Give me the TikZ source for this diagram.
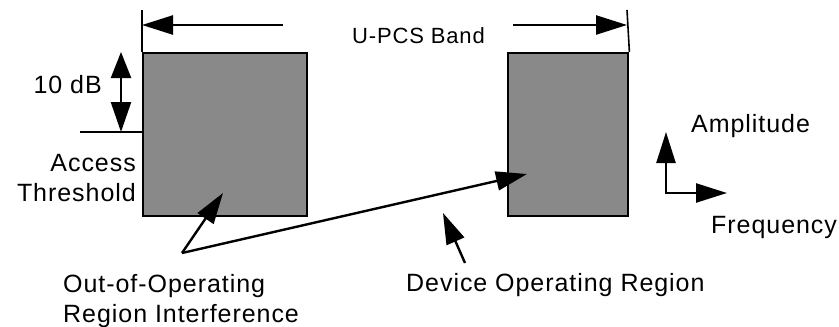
\documentclass[tikz,border=0pt]{standalone}
\usepackage{fontspec}
\setmainfont{Liberation Sans}[LetterSpace=3.8]
\usetikzlibrary{arrows.meta}
\definecolor{bandgray}{RGB}{137,137,137}

\begin{document}
\begin{tikzpicture}[x=1pt, y=-1pt,
		band/.style={draw, line width=2.4pt, fill=bandgray, inner sep=0pt, anchor=north west},
		lbl/.style={inner sep=0pt, font=\fontsize{25}{30}\selectfont},
		wire/.style={line width=2.4pt},
		tick/.style={line width=1.6pt},
		pointer/.style={wire, -{Triangle[length=31pt, width=19pt]}},
		gauge/.style={wire, {Triangle[length=26pt, width=20pt]}-{Triangle[length=30pt, width=20pt]}}]
				\useasboundingbox (0, 0) rectangle (839, 327);
				% Paths, nodes and wires:
				\node[band, minimum width=164pt, minimum height=163pt] (outband) at (142, 52){};
				\node[band, minimum width=120pt, minimum height=163pt] (inband) at (507, 52){};
				\coordinate (edgeL) at (142, 10);
				\coordinate (edgeR) at (627, 10);
				\coordinate (spanL) at (283, 25);
				\coordinate (spanR) at (513, 25);
				\draw[tick] (edgeL) -- (outband.north west);
				\draw[tick] (edgeR) -- (inband.north east);
				\draw[pointer] (spanL) -- (edgeL |- spanL);
				\draw[pointer] (spanR) -- (edgeR |- spanR);
				\node[inner sep=0pt, font=\fontsize{22}{26}\selectfont, anchor=base west] (upcs) at (352, 43){U-PCS Band};
				\coordinate (thresh) at (80, 132);
				\coordinate (gaugeTop) at (121, 52);
				\coordinate (gaugeBot) at (121, 132);
				\draw[wire, line width=2pt] (thresh) -- (outband.west |- thresh);
				\draw[gauge] (gaugeTop) -- (gaugeBot);
				\node[lbl, anchor=base east] (gain) at (102, 93){10 dB};
				\node[lbl, anchor=north east, align=right] (access) at (136, 154){Access\\Threshold};
				\coordinate (fork) at (182, 253);
				\coordinate (outTip) at (223, 193);
				\coordinate (inTip) at (527, 174);
				\draw[pointer] (fork) -- (outTip);
				\draw[pointer] (fork) -- (inTip);
				\coordinate (devTail) at (465, 263);
				\coordinate (devTip) at (443, 213);
				\draw[pointer] (devTail) -- (devTip);
				\node[lbl, anchor=north west, align=left] (oop) at (63, 274){Out-of-Operating\\Region Interference};
				\node[lbl, anchor=base west] (devop) at (406, 291){Device Operating Region};
				\coordinate (origin) at (666, 193);
				\coordinate (ampTip) at (666, 132);
				\coordinate (freqTip) at (727, 193);
				\draw[pointer] (origin) -- (ampTip);
				\draw[pointer] (origin) -- (freqTip);
				\draw[wire] ([xshift=-1.2pt]origin) -- ([xshift=1pt]origin);
				\node[lbl, anchor=base west] (amp) at (691, 132){Amplitude};
				\node[lbl, anchor=base west] (freq) at (711, 233){Frequency};
			\end{tikzpicture}
\end{document}
